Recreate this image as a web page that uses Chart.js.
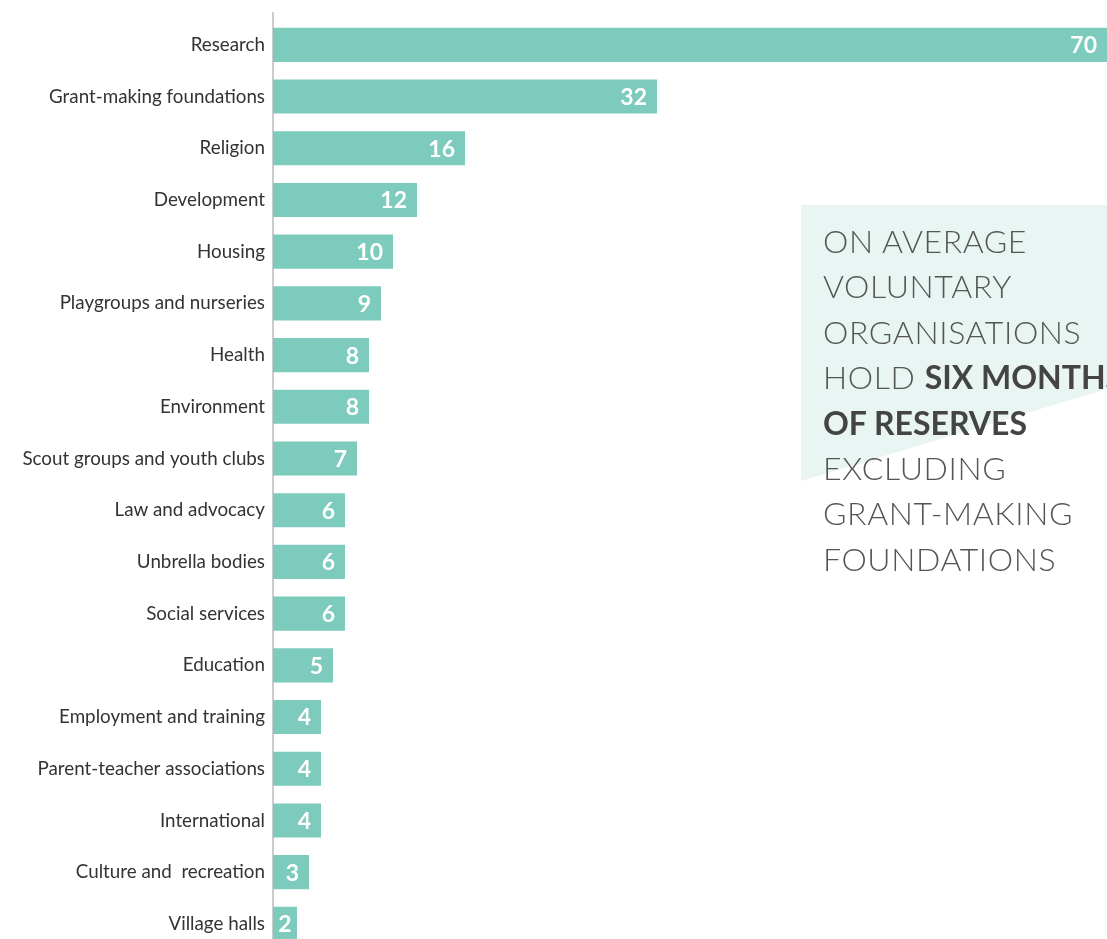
<!DOCTYPE html>
<html>
<head>
<meta charset="utf-8">
<script src="https://cdn.jsdelivr.net/npm/chart.js@4"></script>
<style>
  html, body { margin: 0; padding: 0; background: #fff; }
  body { width: 1107px; height: 939px; overflow: hidden; position: relative; }
  #wrap { position: absolute; left: 0; top: 0; width: 1107px; height: 961px; }
  #callout-bg {
    position: absolute; left: 0; top: 0; width: 1107px; height: 939px;
    background: #e8f5f2;
    clip-path: polygon(801px 205px, 1107px 205px, 1107px 389px, 801px 481px);
  }
  #callout {
    position: absolute; left: 823px; top: 218px; white-space: nowrap;
    font-family: Lato, "Open Sans", sans-serif; font-weight: 300;
    font-size: 32px; line-height: 45.4px; color: #555; letter-spacing: 0.6px;
  }
  #callout b { font-weight: 700; color: #444; letter-spacing: 0px; }
</style>
</head>
<body>
<div id="callout-bg"></div>
<div id="wrap"><canvas id="myChart" width="1107" height="961"></canvas></div>
<div id="callout">
  ON AVERAGE<br>VOLUNTARY<br>ORGANISATIONS<br>HOLD <b>SIX MONTHS</b><br><b>OF RESERVES</b><br>EXCLUDING<br>GRANT-MAKING<br>FOUNDATIONS
</div>
<script>
const categories = [
  "Research", "Grant-making foundations", "Religion", "Development", "Housing",
  "Playgroups and nurseries", "Health", "Environment", "Scout groups and youth clubs",
  "Law and advocacy", "Unbrella bodies", "Social services", "Education",
  "Employment and training", "Parent-teacher associations", "International",
  "Culture and  recreation", "Village halls"
];
const values = [70, 32, 16, 12, 10, 9, 8, 8, 7, 6, 6, 6, 5, 4, 4, 4, 3, 2];

// white value labels near the end of each bar
const barLabels = {
  id: "barLabels",
  afterDatasetsDraw(chart) {
    const ctx = chart.ctx;
    const meta = chart.getDatasetMeta(0);
    ctx.save();
    ctx.font = "bold 23px Lato, sans-serif";
    ctx.fillStyle = "#fff";
    ctx.textAlign = "center";
    ctx.textBaseline = "middle";
    meta.data.forEach((bar, i) => {
      const txt = String(values[i]);
      const w = ctx.measureText(txt).width;
      const end = Math.min(bar.x, chart.chartArea.right);
      const mid = (bar.base + end) / 2;
      const x = Math.max(end - 10 - w / 2, mid);
      ctx.fillText(txt, x, bar.y + 1);
    });
    ctx.restore();
  }
};

// axis line runs a little above the first bar
const axisTop = {
  id: "axisTop",
  afterDraw(chart) {
    const ctx = chart.ctx;
    const x = chart.chartArea.left;
    ctx.save();
    ctx.strokeStyle = "#cccccc";
    ctx.lineWidth = 2;
    ctx.beginPath();
    ctx.moveTo(x, 12);
    ctx.lineTo(x, chart.chartArea.top);
    ctx.stroke();
    ctx.restore();
  }
};

new Chart(document.getElementById("myChart"), {
  type: "bar",
  data: {
    labels: categories,
    datasets: [{
      data: values,
      backgroundColor: "#7ccbbd",
      borderWidth: 0,
      barPercentage: 0.66,
      categoryPercentage: 1
    }]
  },
  options: {
    indexAxis: "y",
    responsive: false,
    animation: false,
    layout: { padding: { top: 19, right: 0, bottom: 0, left: 0 } },
    plugins: { legend: { display: false }, tooltip: { enabled: false } },
    scales: {
      x: { display: false, min: 0, max: 69.5 },
      y: {
        grid: { display: false },
        border: { color: "#cccccc", width: 2 },
        ticks: {
          color: "#333",
          padding: 0,
          font: { family: "Lato", size: 18.8 }
        },
        afterFit(axis) { axis.width = 273; }
      }
    }
  },
  plugins: [barLabels, axisTop]
});
</script>
</body>
</html>
